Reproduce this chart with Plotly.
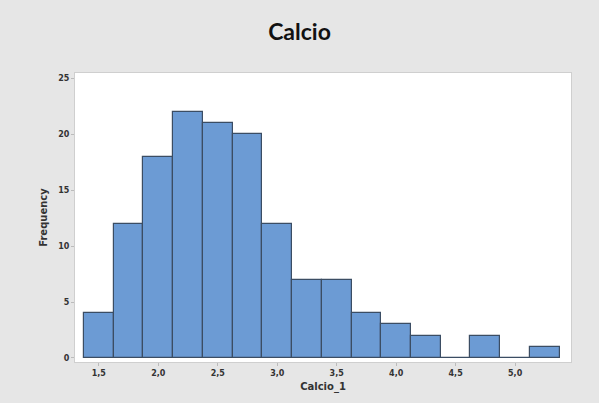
import plotly.graph_objects as go

bin_centers = [1.5, 1.75, 2.0, 2.25, 2.5, 2.75, 3.0, 3.25, 3.5, 3.75, 4.0, 4.25, 4.5, 4.75, 5.0, 5.25]
counts = [4, 12, 18, 22, 21, 20, 12, 7, 7, 4, 3, 2, 0, 2, 0, 1]
x_ticks = [1.5, 2.0, 2.5, 3.0, 3.5, 4.0, 4.5, 5.0]
x_ticklabels = ["<b>1,5</b>", "<b>2,0</b>", "<b>2,5</b>", "<b>3,0</b>", "<b>3,5</b>", "<b>4,0</b>", "<b>4,5</b>", "<b>5,0</b>"]
y_ticks = [0, 5, 10, 15, 20, 25]
y_ticklabels = ["<b>0</b>", "<b>5</b>", "<b>10</b>", "<b>15</b>", "<b>20</b>", "<b>25</b>"]

fig = go.Figure(go.Bar(
    x=bin_centers, y=counts, width=0.25,
    marker=dict(color="#6c9bd4", line=dict(color="#3b4d63", width=1.2)),
))

tickfont = dict(family="DejaVu Sans", size=8, color="#333333")
fig.update_layout(
    width=599, height=403,
    paper_bgcolor="#e6e6e6", plot_bgcolor="#ffffff",
    margin=dict(l=75, r=28, t=73, b=41),
    title=dict(text="<b>Calcio</b>", x=0.5, xanchor="center", y=0.92, yanchor="middle",
               font=dict(family="Lato", size=23, color="#111111")),
    showlegend=False,
    bargap=0,
)
fig.update_xaxes(
    range=[1.3, 5.47], tickvals=x_ticks, ticktext=x_ticklabels, automargin=False,
    tickfont=tickfont, showgrid=False, zeroline=False,
    showline=True, linecolor="#cfcfcf", mirror=True,
    ticks="outside", ticklen=3, tickcolor="#bbbbbb",
    title=dict(text="<b>Calcio_1</b>", font=dict(family="DejaVu Sans", size=10, color="#333333"), standoff=6),
)
fig.update_yaxes(
    range=[-0.36, 25.5], tickvals=y_ticks, ticktext=y_ticklabels, automargin=False,
    tickfont=tickfont, showgrid=False, zeroline=False,
    showline=True, linecolor="#cfcfcf", mirror=True,
    ticks="outside", ticklen=3, tickcolor="#bbbbbb",
    title=dict(text="<b>Frequency</b>", font=dict(family="DejaVu Sans", size=10, color="#333333"), standoff=8),
)

fig.write_html("out.html", config={"displayModeBar": False},
               post_script="document.body.style.margin='0';")
